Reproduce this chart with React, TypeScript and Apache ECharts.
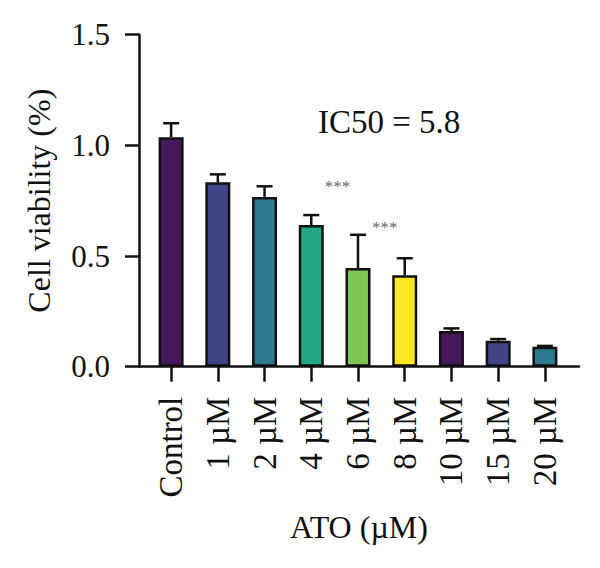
import React, { useEffect, useRef } from "react";
import * as echarts from "echarts";

// Cell viability after ATO treatment (mean with upper SD)
const categories = ["Control", "1 µM", "2 µM", "4 µM", "6 µM", "8 µM", "10 µM", "15 µM", "20 µM"];
const viability = [1.037, 0.833, 0.767, 0.64, 0.446, 0.413, 0.161, 0.117, 0.09];
const sdUpper = [0.063, 0.036, 0.048, 0.045, 0.15, 0.077, 0.012, 0.008, 0.004];
const barColors = ["#45175b", "#414487", "#2c7a8f", "#22a884", "#7dc652", "#fde725", "#45175b", "#414487", "#2c7a8f"];
const yTicks = [0, 0.5, 1.0, 1.5];
// significance marks, placed in axis units
const significanceX = [3.56, 4.57];
const significanceY = [0.815, 0.63];
const significanceText = "***";
const ic50Label = "IC50 = 5.8";

const FONT = "'Liberation Serif', 'Times New Roman', serif";
const INK = "#111111";

export default function App() {
  const ref = useRef<HTMLDivElement>(null);

  useEffect(() => {
    if (!ref.current) return;
    const chart = echarts.init(ref.current, null, { renderer: "svg" });
    const tickIdx = categories.map((_, i) => i);

    chart.setOption({
      animation: false,
      backgroundColor: "#ffffff",
      grid: { left: 139, right: 21, top: 34.7, bottom: 201.3, containLabel: false },
      xAxis: {
        type: "value",
        min: -0.687,
        max: 8.73,
        splitLine: { show: false },
        axisLine: { show: true, onZero: false, lineStyle: { color: INK, width: 2.5 } },
        axisTick: { show: true, customValues: tickIdx, length: 15, lineStyle: { color: INK, width: 2.5 } },
        axisLabel: {
          customValues: tickIdx,
          rotate: 90,
          margin: 30,
          fontSize: 33,
          fontFamily: FONT,
          color: INK,
          formatter: (v: number) => categories[Math.round(v)] ?? "",
        },
        name: "ATO (µM)",
        nameLocation: "middle",
        nameGap: 144,
        nameTextStyle: { fontSize: 32, fontFamily: FONT, color: INK },
      },
      yAxis: {
        type: "value",
        min: yTicks[0],
        max: yTicks[yTicks.length - 1],
        interval: 0.5,
        splitLine: { show: false },
        axisLine: { show: true, onZero: false, lineStyle: { color: INK, width: 2.5 } },
        axisTick: { show: true, length: 14, lineStyle: { color: INK, width: 2.5 } },
        axisLabel: {
          margin: 29,
          fontSize: 31,
          fontFamily: FONT,
          color: INK,
          formatter: (v: number) => v.toFixed(1),
        },
        name: "Cell viability (%)",
        nameLocation: "middle",
        nameGap: 84,
        nameTextStyle: { fontSize: 32, fontFamily: FONT, color: INK },
      },
      series: [
        {
          type: "bar",
          barWidth: 25,
          data: viability.map((v, i) => ({
            value: [i, v],
            itemStyle: { color: barColors[i], borderColor: INK, borderWidth: 2.5 },
          })),
          z: 2,
        },
        {
          type: "custom",
          z: 3,
          data: viability.map((v, i) => [i, v, v + sdUpper[i]]),
          renderItem: (params: any, api: any) => {
            const base = api.coord([api.value(0), api.value(1)]);
            const top = api.coord([api.value(0), api.value(2)]);
            const capHalf = 8;
            const style = { stroke: INK, lineWidth: 2.5, fill: "none" };
            return {
              type: "group",
              children: [
                { type: "line", shape: { x1: base[0], y1: base[1], x2: top[0], y2: top[1] }, style },
                { type: "line", shape: { x1: top[0] - capHalf, y1: top[1], x2: top[0] + capHalf, y2: top[1] }, style },
              ],
            };
          },
        },
        {
          type: "scatter",
          symbolSize: 0,
          z: 4,
          data: significanceX.map((x, i) => [x, significanceY[i]]),
          label: {
            show: true,
            position: "inside",
            formatter: () => significanceText,
            fontSize: 17,
            fontFamily: FONT,
            color: "#3a3a3a",
          },
        },
      ],
      graphic: [
        {
          type: "text",
          left: 318,
          top: 105,
          style: { text: ic50Label, fontSize: 33, fontFamily: FONT, fill: INK },
        },
      ],
    });

    return () => chart.dispose();
  }, []);

  return (
    <div
      ref={ref}
      style={{ position: "fixed", left: 0, top: 0, width: 600, height: 568, background: "#fff" }}
    />
  );
}
